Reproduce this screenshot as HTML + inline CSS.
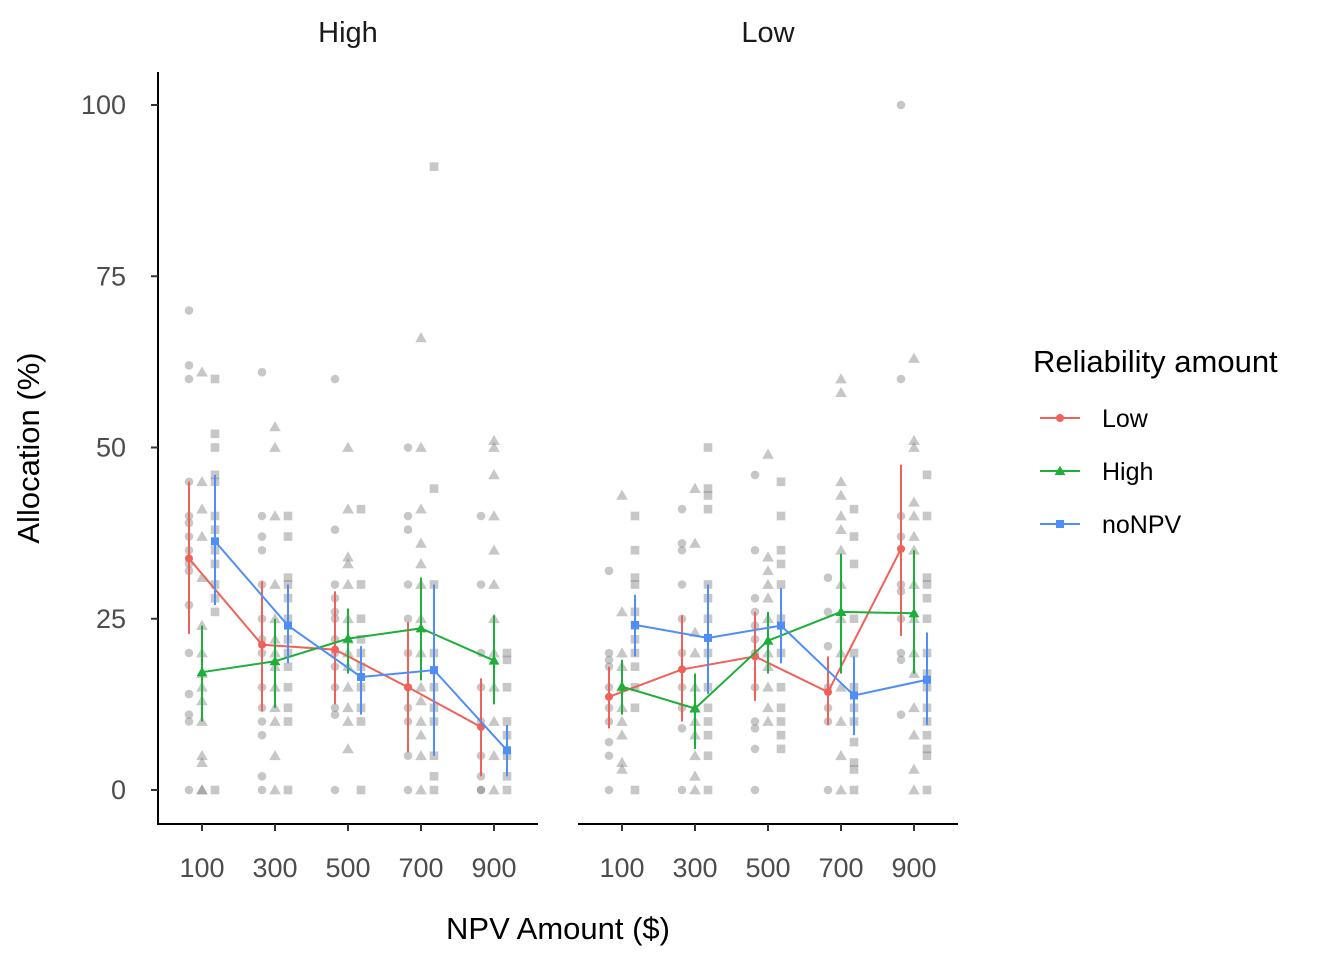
<!DOCTYPE html>
<html><head><meta charset="utf-8"><style>
body{margin:0;background:#fff;}
svg{display:block;font-family:"Liberation Sans",Arial,sans-serif;}
</style></head><body>
<svg id="chart" width="1344" height="960"></svg>
<script>
const npvLevels=[100,300,500,700,900];
const facets=["High","Low"];
const groups=["Low","High","noNPV"];
const colors={Low:"#F0615A",High:"#1DAF3A",noNPV:"#4F8EF7"};
const yTicks=[0,25,50,75,100];
const meansHighLow=[33.8,21.2,20.5,15.0,9.2];
const meansHighHigh=[17.2,18.8,22.1,23.6,18.9];
const meansHighNo=[36.3,24.0,16.5,17.5,5.8];
const meansLowLow=[13.6,17.6,19.5,14.3,35.2];
const meansLowHigh=[15.1,11.9,21.8,26.0,25.8];
const meansLowNo=[24.1,22.2,24.0,13.8,16.1];
const loHighLow=[22.8,11.5,12.5,5.5,2.0], hiHighLow=[45,30.5,29,24.5,16.3];
const loHighHigh=[10,12,17,16,12.5], hiHighHigh=[24,25,26.5,31,25.5];
const loHighNo=[27,18.5,11,5,2], hiHighNo=[46,30,21,30,9.5];
const loLowLow=[9,10,13,9.5,22.5], hiLowLow=[18,25.5,26,19.5,47.5];
const loLowHigh=[11,6,17,17,17], hiLowHigh=[19,17,26,34.5,35];
const loLowNo=[19.5,14,18.5,8,9.5], hiLowNo=[28.5,30,29.5,19.5,23];
const rawHighLow=[[70,62,60,45,40,39,37,35,33,32,27,20,14,11,10,0],[61,40,37,35,30,25,22,20,15,12,10,8,2,0],[60,38,30,28,26,25,22,20,18,15,12,11,0],[50,40,38,30,25,20,15,12,10,5,0],[40,30,20,15,10,5,2,0,0]];
const rawHighHigh=[[61,45,41,37,31,24,20,17,15,13,10,5,4,0,0],[53,50,40,30,25,22,20,18,15,12,10,5,0],[50,41,34,33,30,25,22,20,18,15,12,10,6],[66,50,41,36,33,30,25,20,15,13,10,8,5,0],[51,50,46,40,35,30,25,20,15,10,5,0]];
const rawHighNo=[[60,52,50,46,45,40,38,35,33,30,28,26,0],[40,37,31,30,28,25,22,20,18,15,12,10,0],[41,30,25,22,20,18,15,12,10,0],[91,44,30,20,15,12,10,5,2,0],[20,19,15,10,8,5,2,0]];
const rawLowLow=[[32,20,19,18,15,12,10,7,5,0],[41,36,35,30,25,20,15,12,9,0],[46,35,28,26,24,22,20,15,10,9,6,0],[31,26,21,15,12,10,0],[100,60,40,37,30,29,25,20,19,11]];
const rawLowHigh=[[43,26,20,18,15,12,10,8,4,3],[44,36,23,20,15,12,10,8,5,2,0],[49,34,32,30,28,25,20,18,15,12,10],[60,58,45,43,40,38,35,30,25,20,15,10,5,0],[63,51,50,42,40,37,35,30,25,20,17,12,8,3,0]];
const rawLowNo=[[40,35,31,30,26,24,22,20,18,15,12,0],[50,44,43,41,30,28,25,20,15,12,10,8,5,0],[45,40,35,33,30,25,20,15,12,10,8,6],[41,37,33,25,20,15,12,10,7,4,3,0],[46,40,31,30,28,25,20,17,15,12,10,8,6,5,0]];

const data={
 High:{Low:[meansHighLow,loHighLow,hiHighLow,rawHighLow],High:[meansHighHigh,loHighHigh,hiHighHigh,rawHighHigh],noNPV:[meansHighNo,loHighNo,hiHighNo,rawHighNo]},
 Low:{Low:[meansLowLow,loLowLow,hiLowLow,rawLowLow],High:[meansLowHigh,loLowHigh,hiLowHigh,rawLowHigh],noNPV:[meansLowNo,loLowNo,hiLowNo,rawLowNo]}
};
const NS="http://www.w3.org/2000/svg";
const svg=document.getElementById('chart');
function mk(tag,attrs,parent){const e=document.createElementNS(NS,tag);for(const k in attrs)e.setAttribute(k,attrs[k]);(parent||svg).appendChild(e);return e;}
const panelX0=[158,578];
const y=v=>790-v*6.85;
const xOf=(p,v)=>panelX0[p]+44+(v-100)*0.365;
const dodge={Low:-13,High:0,noNPV:13};
function shape(g,cx,cy,fill,r,parent,name){
  let e;
  if(g==="Low"){e=mk('circle',{cx,cy,r,fill},parent);}
  else if(g==="High"){const s=r*1.35;e=mk('polygon',{points:`${cx},${cy-s} ${cx-s},${cy+s*0.75} ${cx+s},${cy+s*0.75}`,fill},parent);}
  else {e=mk('rect',{x:cx-r,y:cy-r,width:2*r,height:2*r,fill},parent);}
  
  
  return e;
}
facets.forEach((f,p)=>{
  const g=mk('g',{});
  
  
  const t=mk('text',{x:panelX0[p]+190,y:42,'text-anchor':'middle','font-size':'29',fill:'#1a1a1a'},g);t.textContent=f;
  
  
  groups.forEach(gr=>{
    const raw=data[f][gr][3];
    raw.forEach((arr,i)=>arr.forEach(v=>{
      shape(gr,xOf(p,npvLevels[i])+dodge[gr],y(v),'rgba(130,130,130,0.45)',4.3,g,'raw-point');
    }));
  });
  groups.forEach(gr=>{
    const [m,lo,hi]=data[f][gr];
    const pts=m.map((v,i)=>`${xOf(p,npvLevels[i])+dodge[gr]},${y(v)}`).join(' ');
    const l=mk('polyline',{points:pts,fill:'none',stroke:colors[gr],'stroke-width':2},g);
    
    
    m.forEach((v,i)=>{
      const cx=xOf(p,npvLevels[i])+dodge[gr];
      const eb=mk('line',{x1:cx,x2:cx,y1:y(lo[i]),y2:y(hi[i]),stroke:colors[gr],'stroke-width':2},g);
      
      
      shape(gr,cx,y(v),colors[gr],4,g,'mean-point');
    });
  });
  const ax=mk('line',{x1:panelX0[p],x2:panelX0[p]+380,y1:824,y2:824,stroke:'#000','stroke-width':2},g);
  
  
  npvLevels.forEach(v=>{
    const x=xOf(p,v);
    mk('line',{x1:x,x2:x,y1:824,y2:831,stroke:'#333','stroke-width':2},g);
    const tl=mk('text',{x,y:877,'text-anchor':'middle','font-size':'27',fill:'#4d4d4d'},g);tl.textContent=v;
    
    
  });
});
const ya=mk('line',{x1:158,x2:158,y1:72,y2:825,stroke:'#000','stroke-width':2});


yTicks.forEach(v=>{
  mk('line',{x1:151,x2:158,y1:y(v),y2:y(v),stroke:'#333','stroke-width':2});
  const t=mk('text',{x:126,y:y(v)+9,'text-anchor':'end','font-size':'27',fill:'#4d4d4d'});t.textContent=v;
  
  
});
const yt=mk('text',{x:39,y:448,'text-anchor':'middle','font-size':'31',fill:'#000',transform:'rotate(-90 39 448)'});yt.textContent='Allocation (%)';


const xt=mk('text',{x:558,y:939,'text-anchor':'middle','font-size':'31',fill:'#000'});xt.textContent='NPV Amount ($)';


const lg=mk('g',{});


const lt=mk('text',{x:1033,y:372,'font-size':'31',fill:'#000'},lg);lt.textContent='Reliability amount';


groups.forEach((gr,i)=>{
  const ly=418+i*53;
  const ln=mk('line',{x1:1040,x2:1080,y1:ly,y2:ly,stroke:colors[gr],'stroke-width':2},lg);
  
  
  shape(gr,1060,ly,colors[gr],4,lg,'legend-marker');
  const t=mk('text',{x:1102,y:ly+9,'font-size':'25',fill:'#000'},lg);t.textContent=gr;
  
  
});
</script>
</body></html>
